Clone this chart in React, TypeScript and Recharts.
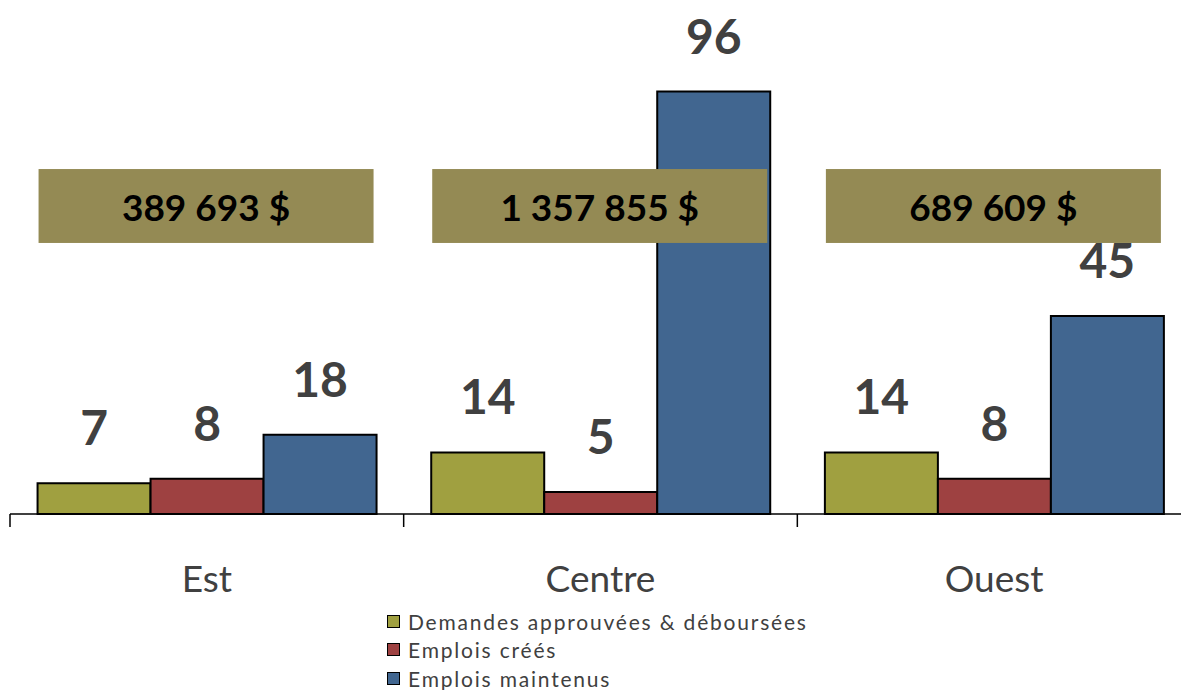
import React from 'react';
import { BarChart, Bar, XAxis, YAxis, LabelList, Legend } from 'recharts';

const categories = ['Est', 'Centre', 'Ouest'];
const demandes = [7, 14, 14];
const emploisCrees = [8, 5, 8];
const emploisMaintenus = [18, 96, 45];
const montants = ['389 693 $', '1 357 855 $', '689 609 $'];
const montantBand = [61.6, 78.4];

const seriesNames = ['Demandes approuvées & déboursées', 'Emplois créés', 'Emplois maintenus'];
const seriesColors = ['#A0A040', '#9E4141', '#416690'];

const data = categories.map((name, i) => ({
  name,
  demandes: demandes[i],
  crees: emploisCrees[i],
  maintenus: emploisMaintenus[i],
}));

const FONT = 'Lato, "Open Sans", sans-serif';

const CategoryTick = (props: any) => {
  const { x, y, payload } = props;
  const left = x - (payload.offset || 0);
  return (
    <g>
      <line x1={left} y1={y} x2={left} y2={y + 13} stroke="#000" strokeWidth={1.5} />
      <text x={x} y={y + 63} textAnchor="middle" dominantBaseline="central"
        fontFamily={FONT} fontSize={37} fill="#404040">{payload.value}</text>
    </g>
  );
};

// amount box drawn from the last bar of each group so it sits above the bars
const AmountBox = (props: any) => {
  const { x, y, width, height, value, index } = props;
  const bx = Number(x), by = Number(y), bw = Number(width), bh = Number(height);
  const perUnit = bh / Number(value);
  const base = by + bh;
  const top = base - montantBand[1] * perUnit;
  const boxH = (montantBand[1] - montantBand[0]) * perUnit;
  const left = bx - 2 * bw + 1;
  const boxW = 3 * bw - 4;
  return (
    <g>
      <rect x={left} y={top} width={boxW} height={boxH} fill="#948A54" />
      <text x={left + boxW / 2} y={top + boxH / 2} textAnchor="middle" dominantBaseline="central"
        fontFamily={FONT} fontWeight="bold" fontSize={37} fill="#000">{montants[index]}</text>
    </g>
  );
};

const LegendContent = () => (
  <div style={{ fontFamily: FONT, fontSize: 21, color: '#404040', letterSpacing: 1.8, whiteSpace: 'nowrap' }}>
    {seriesNames.map((n, i) => (
      <div key={n} style={{ display: 'flex', alignItems: 'center', height: 28.5 }}>
        <span style={{ display: 'inline-block', width: 11, height: 11, background: seriesColors[i], border: '1.5px solid #000', marginRight: 8 }} />
        <span>{n}</span>
      </div>
    ))}
  </div>
);

const valueLabelStyle = { fontFamily: FONT, fontWeight: 'bold' as const, fontSize: 48, fill: '#404040' };

export default function App() {
  return (
    <div style={{ position: 'absolute', left: 0, top: 0, width: 1181, height: 690, overflow: 'hidden', background: '#fff' }}>
      <BarChart width={1191} height={690} data={data}
        margin={{ top: 74, right: 0, bottom: 0, left: 10 }}
        barCategoryGap="7%" barGap={0}>
        <YAxis hide domain={[0, 100]} />
        <XAxis dataKey="name" height={176} axisLine={{ stroke: '#000', strokeWidth: 1.5 }}
          tickLine={false} tickSize={0} tickMargin={0} tick={<CategoryTick />} interval={0} />
        <Bar dataKey="demandes" name={seriesNames[0]} fill={seriesColors[0]} stroke="#000" strokeWidth={2} isAnimationActive={false}>
          <LabelList dataKey="demandes" position="top" offset={38} style={valueLabelStyle} />
        </Bar>
        <Bar dataKey="crees" name={seriesNames[1]} fill={seriesColors[1]} stroke="#000" strokeWidth={2} isAnimationActive={false}>
          <LabelList dataKey="crees" position="top" offset={38} style={valueLabelStyle} />
        </Bar>
        <Bar dataKey="maintenus" name={seriesNames[2]} fill={seriesColors[2]} stroke="#000" strokeWidth={2} isAnimationActive={false}>
          <LabelList dataKey="maintenus" content={AmountBox} />
          <LabelList dataKey="maintenus" position="top" offset={38} style={valueLabelStyle} />
        </Bar>
        <Legend layout="vertical" align="center" verticalAlign="middle" content={<LegendContent />}
          wrapperStyle={{ position: 'absolute', left: 387, top: 607, width: 'auto' }} />
      </BarChart>
    </div>
  );
}
